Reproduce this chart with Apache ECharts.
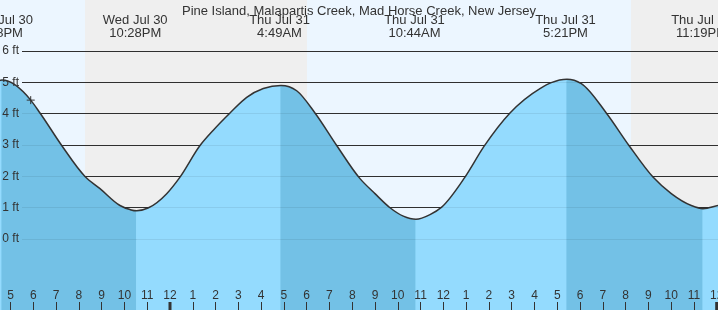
<!DOCTYPE html>
<html>
<head>
<meta charset="utf-8">
<script src="https://cdn.jsdelivr.net/npm/echarts@6/dist/echarts.min.js"></script>
<style>
html,body{margin:0;padding:0;background:#fff;}
#chart{width:718px;height:310px;}
</style>
</head>
<body>
<div id="chart"></div>
<script>
// ---- data (hours relative to Thu Jul 31 00:00) ----
const chartTitle = 'Pine Island, Malapartis Creek, Mad Horse Creek, New Jersey';
const xMin = -7.463, xMax = 24.057;
const tideHours = [-7.463, -7.375, -6.115, -5.707, -4.754, -3.731, -3.073, -2.195, -1.756, -1.462,
  -0.966, -0.145, 0.439, 1.317, 1.901, 2.634, 3.367, 4.096, 4.873, 5.562, 6.365, 7.318, 8.341,
  8.999, 9.658, 10.242, 10.799, 11.414, 11.927, 12.950, 13.784, 14.925, 16.242, 16.738, 17.428,
  18.056, 19.153, 20.149, 21.203, 22.006, 22.884, 23.398, 24.057];
const tideFeet = [5.07, 5.08, 4.44, 4.03, 2.99, 2.00, 1.61, 1.07, 0.94, 0.90,
  0.99, 1.45, 1.98, 2.99, 3.48, 4.03, 4.53, 4.81, 4.91, 4.74, 4.03, 2.99, 1.93,
  1.45, 1.00, 0.73, 0.63, 0.78, 1.02, 1.98, 2.96, 4.03, 4.81, 5.00, 5.11,
  4.97, 4.03, 2.99, 1.98, 1.45, 1.07, 0.97, 1.07];
const extremeHours = [-7.375, -1.462, 4.873, 10.799, 17.428, 23.398];
const extremeTypes = ['high', 'low', 'high', 'low', 'high', 'low'];
const extremeDays = ['Wed Jul 30', 'Wed Jul 30', 'Thu Jul 31', 'Thu Jul 31', 'Thu Jul 31', 'Thu Jul 31'];
const extremeClock = ['4:38PM', '10:28PM', '4:49AM', '10:44AM', '5:21PM', '11:19PM'];
const lightStart = [xMin, -3.731, 6.014, 20.237];
const lightEnd = [-3.731, 6.014, 20.237, xMax];
const lightKind = [0, 1, 0, 1]; // 0 = day, 1 = night
const tickHours = [];
for (let h = -7; h <= 24; h++) tickHours.push(h);
const midnightHours = [0, 24];
const feetTicks = [0, 1, 2, 3, 4, 5, 6];
const nowHour = -6.115, nowFeet = 4.44;

// ---- styles ----
const FONT = '"Liberation Sans", Arial, sans-serif';
const TXT = '#333';
const DAY = '#ecf6ff', NIGHT = '#efefef';
const FALL = '#73c1e6', RISE = '#94dbfe';

// pieces of the tide area, split at high / low waters
const bounds = [0];
extremeHours.forEach(h => bounds.push(tideHours.indexOf(h)));
bounds.push(tideHours.length - 1);
const pieceData = [];
for (let k = 0; k < bounds.length - 1; k++) {
  const s = bounds[k], e = bounds[k + 1];
  if (e > s) pieceData.push([tideHours[s], tideFeet[s], s, e, tideFeet[e] < tideFeet[s] ? 1 : 0]);
}
const bg = lightStart.map((s, i) => [s, lightEnd[i], lightKind[i]]);

// smooth cubic Hermite through the data points, in pixel space
function curve(api, s, e) {
  const P = tideHours.map((h, i) => api.coord([h, tideFeet[i]]));
  const n = P.length;
  const m = P.map((p, i) => {
    if (extremeHours.indexOf(tideHours[i]) >= 0) return 0;
    if (i === 0) return (P[1][1] - P[0][1]) / (P[1][0] - P[0][0]);
    if (i === n - 1) return (P[n - 1][1] - P[n - 2][1]) / (P[n - 1][0] - P[n - 2][0]);
    const h0 = P[i][0] - P[i - 1][0], h1 = P[i + 1][0] - P[i][0];
    const d0 = (P[i][1] - P[i - 1][1]) / h0, d1 = (P[i + 1][1] - P[i][1]) / h1;
    return (d0 * h1 + d1 * h0) / (h0 + h1);
  });
  let d = '';
  for (let i = s; i < e; i++) {
    const dx = P[i + 1][0] - P[i][0];
    d += ' C ' + (P[i][0] + dx / 3) + ' ' + (P[i][1] + m[i] * dx / 3) + ' ' +
      (P[i + 1][0] - dx / 3) + ' ' + (P[i + 1][1] - m[i + 1] * dx / 3) + ' ' + P[i + 1][0] + ' ' + P[i + 1][1];
  }
  return { P: P, d: d };
}

const chart = echarts.init(document.getElementById('chart'));
chart.setOption({
  animation: false,
  title: {
    text: chartTitle, left: 'center', top: 0,
    textStyle: { fontSize: 13, fontWeight: 'normal', color: TXT, fontFamily: FONT }
  },
  grid: [
    { left: 0, right: 0, top: 0, bottom: 0, containLabel: false, outerBoundsMode: 'none' },
    { left: 22, right: 0, top: 51, bottom: 71, containLabel: false, outerBoundsMode: 'none' }
  ],
  xAxis: [
    {
      type: 'value', gridIndex: 0, min: xMin, max: xMax, z: 10,
      axisLine: { show: false, onZero: false }, splitLine: { show: false },
      axisTick: { show: true, inside: true, length: 8, customValues: tickHours, lineStyle: { color: TXT, width: 1 } },
      axisLabel: {
        inside: true, margin: 8, customValues: tickHours, color: TXT, fontSize: 12, fontFamily: FONT,
        formatter: v => { const m = ((Math.round(v) % 12) + 12) % 12; return String(m === 0 ? 12 : m); }
      }
    },
    { type: 'value', gridIndex: 1, min: xMin, max: xMax, show: false, axisLine: { onZero: false } }
  ],
  yAxis: [
    { type: 'value', gridIndex: 0, min: -2.270, max: 7.641, show: false },
    {
      type: 'value', gridIndex: 1, position: 'left', min: feetTicks[0], max: feetTicks[feetTicks.length - 1], interval: 1, z: 0,
      axisLine: { show: false, onZero: false }, axisTick: { show: false }, axisLabel: { show: false },
      splitLine: { show: true, lineStyle: { color: '#333', width: 1 } }
    },
    {
      type: 'value', gridIndex: 1, position: 'left', min: feetTicks[0], max: feetTicks[feetTicks.length - 1], interval: 1, z: 10,
      axisLine: { show: false, onZero: false }, axisTick: { show: false },
      splitLine: { show: true, lineStyle: { color: 'rgba(0,0,0,0.07)', width: 1 } },
      axisLabel: { show: true, margin: 3, color: TXT, fontSize: 12, fontFamily: FONT, formatter: '{value} ft' }
    }
  ],
  series: [
    {
      type: 'custom', z: -1, xAxisIndex: 0, yAxisIndex: 0, silent: true,
      data: bg, encode: { x: [0, 1] },
      renderItem: (params, api) => {
        const x0 = api.coord([api.value(0), 0])[0];
        const x1 = api.coord([api.value(1), 0])[0];
        const cs = params.coordSys;
        return { type: 'rect', shape: { x: x0, y: cs.y, width: x1 - x0, height: cs.height },
          style: { fill: api.value(2) === 0 ? DAY : NIGHT } };
      }
    },
    {
      type: 'custom', z: 2, xAxisIndex: 0, yAxisIndex: 0, silent: true,
      data: pieceData, encode: { x: 0, y: 1 },
      renderItem: (params, api) => {
        const s = api.value(2), e = api.value(3);
        const c = curve(api, s, e);
        const cs = params.coordSys;
        const bottom = cs.y + cs.height;
        const xs = c.P[s][0], ys = c.P[s][1], xe = c.P[e][0];
        const d = 'M ' + (xs - 0.6) + ' ' + bottom + ' L ' + (xs - 0.6) + ' ' + ys + ' L ' + xs + ' ' + ys +
          c.d + ' L ' + xe + ' ' + bottom + ' Z';
        return { type: 'path', shape: { pathData: d }, style: { fill: api.value(4) === 1 ? FALL : RISE } };
      }
    },
    {
      type: 'custom', z: 3, xAxisIndex: 0, yAxisIndex: 0, silent: true,
      data: [[tideHours[0], tideFeet[0]]], encode: { x: 0, y: 1 },
      renderItem: (params, api) => {
        const c = curve(api, 0, tideHours.length - 1);
        const d = 'M ' + c.P[0][0] + ' ' + c.P[0][1] + c.d;
        return { type: 'path', shape: { pathData: d }, style: { fill: 'none', stroke: '#333', lineWidth: 1.5 } };
      }
    },
    {
      type: 'custom', z: 4, xAxisIndex: 0, yAxisIndex: 0, silent: true,
      data: [[nowHour, nowFeet]],
      renderItem: (params, api) => {
        const p = api.coord([api.value(0), api.value(1)]);
        return { type: 'group', children: [
          { type: 'line', shape: { x1: p[0] - 4, y1: p[1], x2: p[0] + 4, y2: p[1] }, style: { stroke: '#333', lineWidth: 1 } },
          { type: 'line', shape: { x1: p[0], y1: p[1] - 4, x2: p[0], y2: p[1] + 4 }, style: { stroke: '#333', lineWidth: 1 } }
        ] };
      }
    },
    {
      type: 'custom', z: 11, xAxisIndex: 0, yAxisIndex: 0, silent: true,
      data: midnightHours.map(h => [h, 0]),
      renderItem: (params, api) => {
        const x = api.coord([api.value(0), 0])[0];
        const cs = params.coordSys;
        return { type: 'rect', shape: { x: x - 1.5, y: cs.y + cs.height - 8, width: 3, height: 8 }, style: { fill: '#333' } };
      }
    },
    {
      type: 'custom', z: 11, xAxisIndex: 0, yAxisIndex: 0, silent: true, clip: false,
      data: extremeHours.map(h => [h, 0]),
      renderItem: (params, api) => {
        const x = api.coord([api.value(0), 0])[0] - 1.5;
        const i = params.dataIndex;
        return { type: 'group', children: [
          { type: 'text', x: x, y: 20, style: { text: extremeDays[i], fill: TXT, font: '13px ' + FONT, align: 'center', verticalAlign: 'middle' } },
          { type: 'text', x: x, y: 33, style: { text: extremeClock[i], fill: TXT, font: '13px ' + FONT, align: 'center', verticalAlign: 'middle' } }
        ] };
      }
    }
  ]
});
</script>
</body>
</html>
